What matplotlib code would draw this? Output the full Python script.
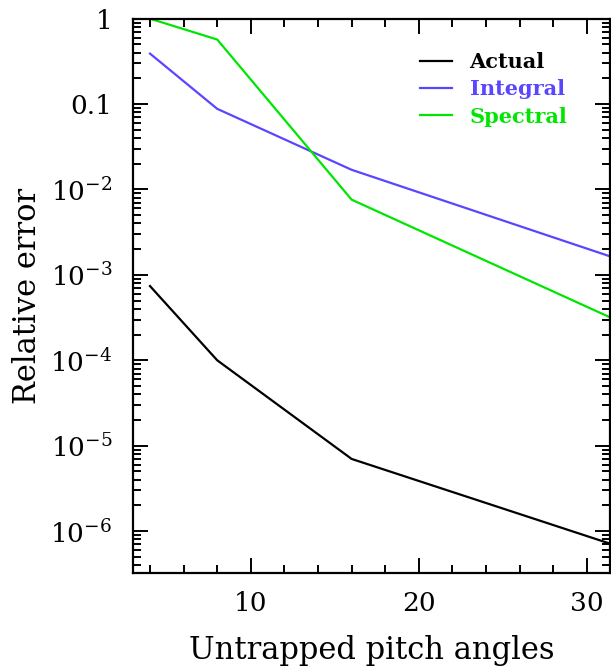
import numpy as np
import matplotlib.pyplot as plt
from matplotlib.ticker import FixedLocator, LogLocator, NullFormatter

# ── Data ──────────────────────────────────────────────────────────────────────
n_angles = [4, 8, 16, 32]
err_actual = [7.4e-4, 1.0e-4, 7.0e-6, 6.5e-7]
err_integral = [0.39, 0.088, 0.017, 1.5e-3]
err_spectral = [1.0, 0.57, 7.6e-3, 2.8e-4]

series = [('Actual', err_actual, 'black'),
          ('Integral', err_integral, '#5a46ff'),
          ('Spectral', err_spectral, '#00e600')]

plt.rcParams['font.family'] = 'DejaVu Serif'
plt.rcParams['mathtext.fontset'] = 'dejavuserif'

fig = plt.figure(figsize=(6.11, 6.67), dpi=100)
ax = fig.add_axes([0.218, 0.141, 0.781, 0.831])

for name, vals, color in series:
    ax.plot(n_angles, vals, color=color, linewidth=1.6, label=name)

ax.set_yscale('log')
ax.set_xlim(3, 31.4)
ax.set_ylim(10**-6.49, 1.0)

ax.yaxis.set_minor_locator(LogLocator(base=10, subs=np.arange(2, 10), numticks=20))
ax.yaxis.set_minor_formatter(NullFormatter())
ax.set_yticks([1, 0.1, 1e-2, 1e-3, 1e-4, 1e-5, 1e-6])
ax.set_yticklabels(['1', '0.1', r'$10^{-2}$', r'$10^{-3}$', r'$10^{-4}$',
                    r'$10^{-5}$', r'$10^{-6}$'])
ax.set_xticks([10, 20, 30])
ax.xaxis.set_minor_locator(FixedLocator(np.arange(4, 32, 2)))

ax.tick_params(which='both', direction='in', top=True, right=True,
               width=1.4, labelsize=19)
ax.tick_params(which='major', length=11)
ax.tick_params(which='minor', length=6)
ax.tick_params(axis='x', pad=13)
ax.tick_params(axis='y', pad=15)
for sp in ax.spines.values():
    sp.set_linewidth(1.6)

ax.set_xlabel('Untrapped pitch angles', fontsize=22, labelpad=14)
ax.set_ylabel('Relative error', fontsize=22, labelpad=5)

leg = ax.legend(loc='upper left', bbox_to_anchor=(0.60, 0.94), frameon=False,
                fontsize=15, handlelength=1.55, handletextpad=0.85,
                labelspacing=0.35, borderpad=0, borderaxespad=0)
for text, (_, _, color) in zip(leg.get_texts(), series):
    text.set_color(color)
    text.set_fontweight('bold')

plt.savefig('out.png', dpi=100)
